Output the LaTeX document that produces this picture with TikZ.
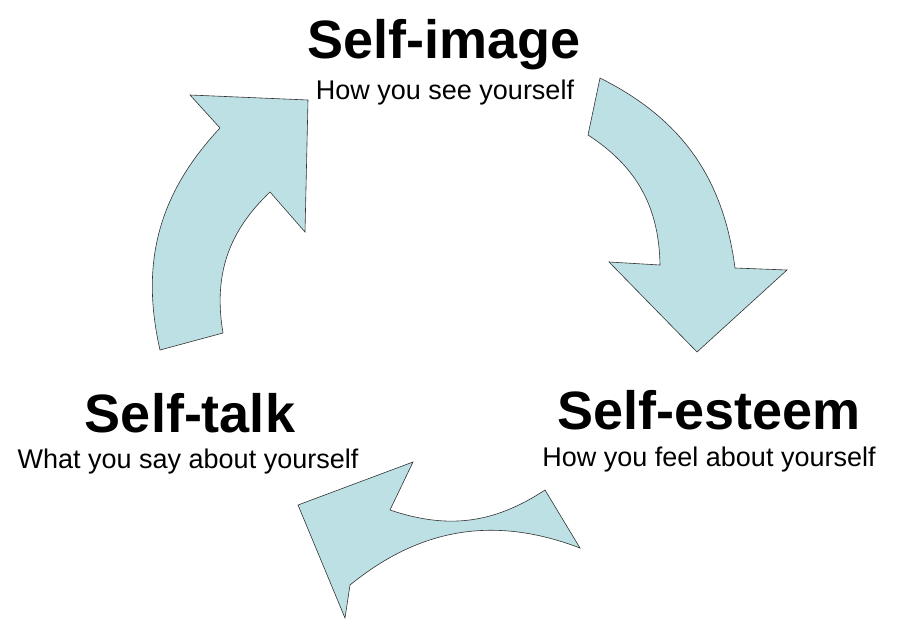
\documentclass[tikz,border=0pt]{standalone}
\usepackage{fontspec}
\setmainfont{Liberation Sans}
\begin{document}
\begin{tikzpicture}[x=1pt,y=-1pt,
  arr/.style={fill={rgb,255:red,188;green,224;blue,227},draw=black!80,line width=0.6pt,line join=miter},
  ttl/.style={font=\fontsize{54}{58}\selectfont\bfseries,inner sep=0pt},
  sub/.style={font=\fontsize{27}{30}\selectfont,inner sep=0pt}]
\useasboundingbox (0,0) rectangle (901,639);
\draw[arr] (600,78) to[bend left=28] (735,268) -- (787,270) -- (697,352) -- (609,262) -- (660,265) to[bend right=28] (588,135) -- cycle;
\draw[arr] (580,548) to[bend right=30] (350,585) -- (345,618) -- (298,505) -- (413,462) -- (390,510) to[bend right=26] (545,490) -- cycle;
\draw[arr] (160,350) to[bend left=28] (220,128) -- (190,95) -- (308,100) -- (305,232) -- (270,192) to[bend right=28] (223,333) -- cycle;
\node[ttl] (si) at (444,45) {Self-image};
\node[sub] (sis) at (445,93) {How you see yourself};
\node[ttl] (se) at (709,410) {Self-esteem};
\node[sub] (ses) at (709,460) {How you feel about yourself};
\node[ttl] (st) at (190,413) {Self-talk};
\node[sub] (sts) at (188,462) {What you say about yourself};
\end{tikzpicture}
\end{document}
